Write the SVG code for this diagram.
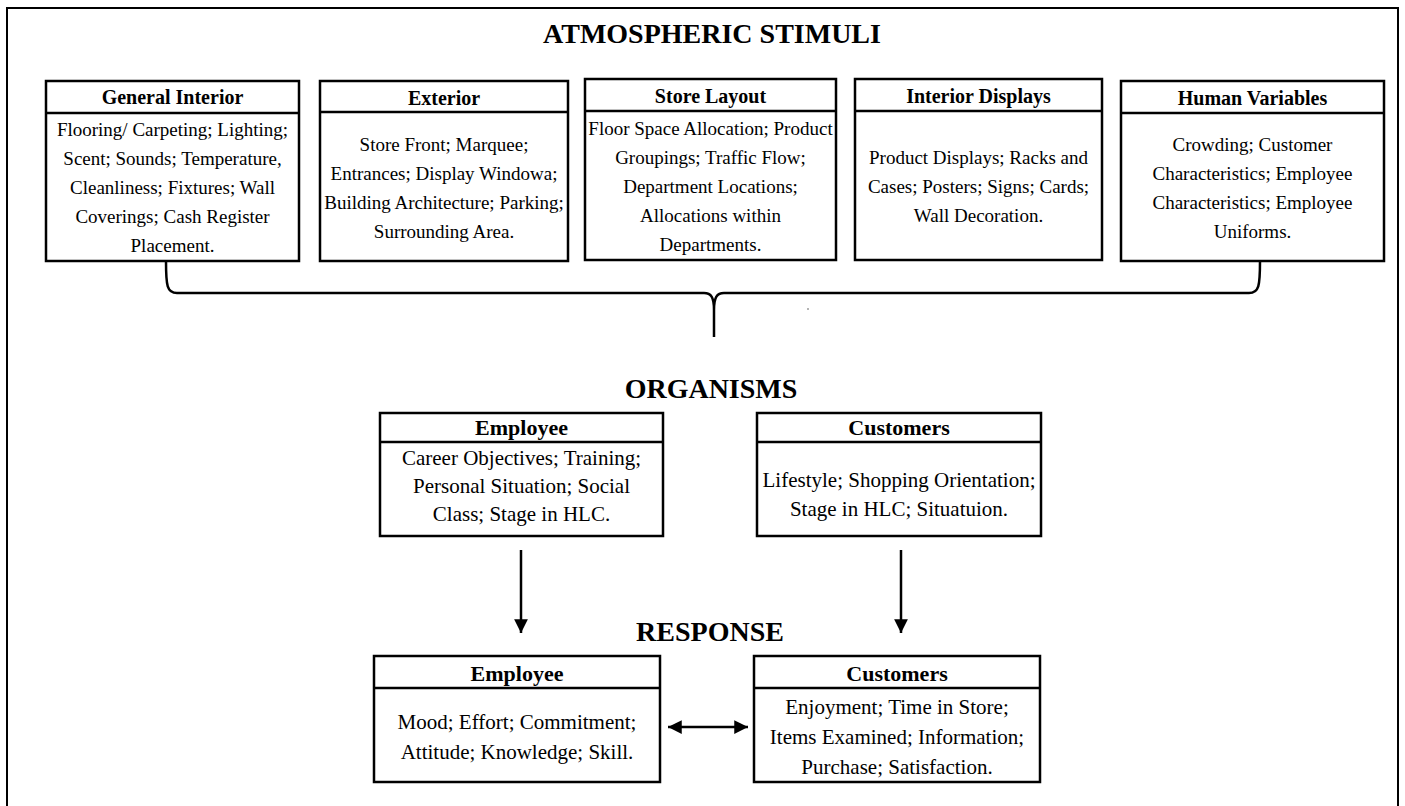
<svg xmlns="http://www.w3.org/2000/svg" width="1405" height="806" viewBox="0 0 1405 806">
<defs>
<style>
.box{fill:#fff;stroke:#000;stroke-width:2.5}
.hl{stroke:#000;stroke-width:2.5}
.ttl{font-family:"Liberation Serif","Times New Roman",serif;font-weight:bold;font-size:28px;fill:#000;text-anchor:middle}
.h1{font-family:"Liberation Serif","Times New Roman",serif;font-weight:bold;font-size:20px;fill:#000;text-anchor:middle}
.b1{font-family:"Liberation Serif","Times New Roman",serif;font-size:19px;fill:#000;text-anchor:middle}
.h2{font-family:"Liberation Serif","Times New Roman",serif;font-weight:bold;font-size:22px;fill:#000;text-anchor:middle}
.b2{font-family:"Liberation Serif","Times New Roman",serif;font-size:21px;fill:#000;text-anchor:middle}
.ln{fill:none;stroke:#000;stroke-width:2.5}
</style>
<marker id="ah" viewBox="0 0 10 10" refX="10" refY="5" markerWidth="5.5" markerHeight="5.5" orient="auto-start-reverse" markerUnits="strokeWidth">
<path d="M0,0 L10,5 L0,10 Z" fill="#000"/>
</marker>
</defs>
<rect width="1405" height="806" fill="#fff"/>
<path d="M7,806 V8 H1398 V806" fill="none" stroke="#000" stroke-width="2"/>

<text class="ttl" x="712" y="43">ATMOSPHERIC STIMULI</text>
<text class="ttl" x="711" y="398">ORGANISMS</text>
<text class="ttl" x="710" y="641">RESPONSE</text>

<g id="general-interior">
<rect class="box" x="46" y="81" width="253" height="180"/>
<line class="hl" x1="46" y1="113" x2="299" y2="113"/>
<text class="h1" x="172.5" y="104">General Interior</text>
<text class="b1" x="172.5" y="136">Flooring/ Carpeting; Lighting;</text>
<text class="b1" x="172.5" y="165">Scent; Sounds; Temperature,</text>
<text class="b1" x="172.5" y="194">Cleanliness; Fixtures; Wall</text>
<text class="b1" x="172.5" y="223">Coverings; Cash Register</text>
<text class="b1" x="172.5" y="252">Placement.</text>
</g>

<g id="exterior">
<rect class="box" x="320" y="81" width="248" height="180"/>
<line class="hl" x1="320" y1="112" x2="568" y2="112"/>
<text class="h1" x="444" y="105">Exterior</text>
<text class="b1" x="444" y="151">Store Front; Marquee;</text>
<text class="b1" x="444" y="180">Entrances; Display Windowa;</text>
<text class="b1" x="444" y="209">Building Architecture; Parking;</text>
<text class="b1" x="444" y="238">Surrounding Area.</text>
</g>

<g id="store-layout">
<rect class="box" x="585" y="79" width="251" height="181"/>
<line class="hl" x1="585" y1="111" x2="836" y2="111"/>
<text class="h1" x="710.5" y="103">Store Layout</text>
<text class="b1" x="710.5" y="135">Floor Space Allocation; Product</text>
<text class="b1" x="710.5" y="164">Groupings; Traffic Flow;</text>
<text class="b1" x="710.5" y="193">Department Locations;</text>
<text class="b1" x="710.5" y="222">Allocations within</text>
<text class="b1" x="710.5" y="251">Departments.</text>
</g>

<g id="interior-displays">
<rect class="box" x="855" y="79" width="247" height="181"/>
<line class="hl" x1="855" y1="111" x2="1102" y2="111"/>
<text class="h1" x="978.5" y="103">Interior Displays</text>
<text class="b1" x="978.5" y="164">Product Displays; Racks and</text>
<text class="b1" x="978.5" y="193">Cases; Posters; Signs; Cards;</text>
<text class="b1" x="978.5" y="222">Wall Decoration.</text>
</g>

<g id="human-variables">
<rect class="box" x="1121" y="81" width="263" height="180"/>
<line class="hl" x1="1121" y1="113" x2="1384" y2="113"/>
<text class="h1" x="1252.5" y="105">Human Variables</text>
<text class="b1" x="1252.5" y="151">Crowding; Customer</text>
<text class="b1" x="1252.5" y="180">Characteristics; Employee</text>
<text class="b1" x="1252.5" y="209">Characteristics; Employee</text>
<text class="b1" x="1252.5" y="238">Uniforms.</text>
</g>

<g id="org-employee">
<rect class="box" x="380" y="413" width="283" height="123"/>
<line class="hl" x1="380" y1="442" x2="663" y2="442"/>
<text class="h2" x="521.5" y="435">Employee</text>
<text class="b2" x="521.5" y="465">Career Objectives; Training;</text>
<text class="b2" x="521.5" y="493">Personal Situation; Social</text>
<text class="b2" x="521.5" y="521">Class; Stage in HLC.</text>
</g>

<g id="org-customers">
<rect class="box" x="757" y="413" width="284" height="123"/>
<line class="hl" x1="757" y1="442" x2="1041" y2="442"/>
<text class="h2" x="899" y="435">Customers</text>
<text class="b2" x="899" y="487">Lifestyle; Shopping Orientation;</text>
<text class="b2" x="899" y="516">Stage in HLC; Situatuion.</text>
</g>

<g id="resp-employee">
<rect class="box" x="374" y="656" width="286" height="126"/>
<line class="hl" x1="374" y1="688" x2="660" y2="688"/>
<text class="h2" x="517" y="681">Employee</text>
<text class="b2" x="517" y="729">Mood; Effort; Commitment;</text>
<text class="b2" x="517" y="759">Attitude; Knowledge; Skill.</text>
</g>

<g id="resp-customers">
<rect class="box" x="754" y="656" width="286" height="126"/>
<line class="hl" x1="754" y1="688" x2="1040" y2="688"/>
<text class="h2" x="897" y="681">Customers</text>
<text class="b2" x="897" y="714">Enjoyment; Time in Store;</text>
<text class="b2" x="897" y="744">Items Examined; Information;</text>
<text class="b2" x="897" y="774">Purchase; Satisfaction.</text>
</g>

<g id="connectors">
<path class="ln" d="M166,261 C166,286 167,293 177,293 L704,293 C711,293 714,297 714,310 L714,337 M714,310 C714,297 717,293 724,293 L1249,293 C1259,293 1260,286 1260,261"/>
<line class="ln" x1="521" y1="550" x2="521" y2="633" marker-end="url(#ah)"/>
<line class="ln" x1="901" y1="550" x2="901" y2="633" marker-end="url(#ah)"/>
<line class="ln" x1="668" y1="727" x2="748" y2="727" marker-start="url(#ah)" marker-end="url(#ah)"/>
</g>
<circle cx="808" cy="309" r="0.8" fill="#555"/>
</svg>
